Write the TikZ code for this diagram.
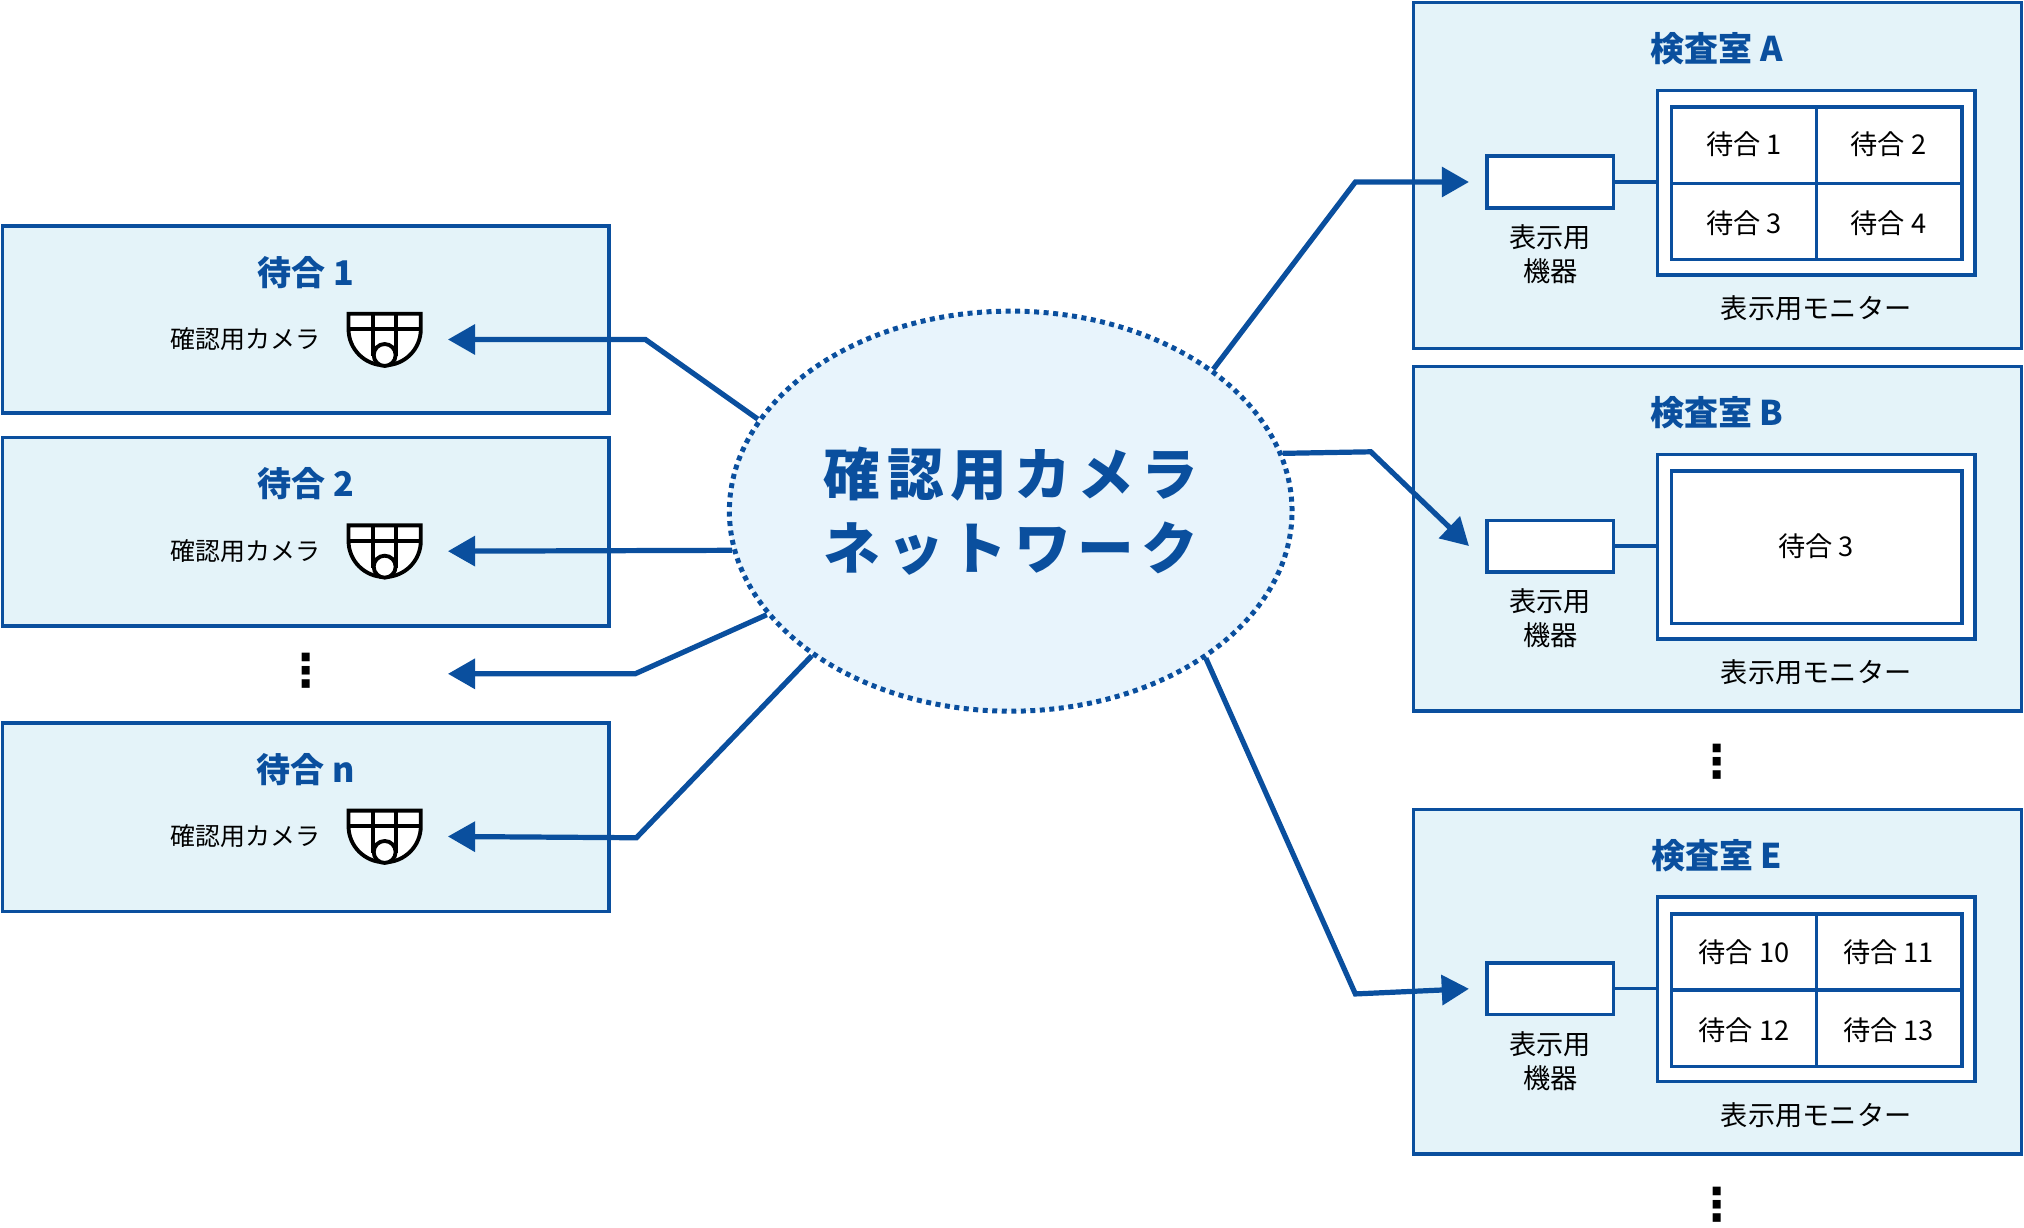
\documentclass[tikz,border=0pt]{standalone}
\usepackage{fontspec}
\setmainfont{Noto Sans CJK JP}
\newfontfamily\djv{DejaVu Sans}
\usetikzlibrary{shapes.geometric,arrows.meta,fit}
\definecolor{bl}{HTML}{0A4F9E}
\definecolor{pane}{HTML}{E4F3F9}
\definecolor{cloud}{HTML}{E8F4FC}
\begin{document}
\begin{tikzpicture}[x=0.02cm,y=-0.02cm,
  box/.style={draw=bl,line width=1.6pt,fill=pane,inner sep=0},
  wbox/.style={draw=bl,line width=1.5pt,fill=white,inner sep=0},
  ttl/.style={text=bl,font=\fontsize{15}{18}\selectfont\bfseries},
  sm/.style={font=\fontsize{11}{14}\selectfont,align=center},
  cell/.style={font=\fontsize{12}{14}\selectfont},
  arr/.style={draw=bl,line width=2.3pt,-{Triangle[length=12pt,width=13pt]}},
  ln/.style={draw=bl,line width=1.5pt},
  dots/.style={font=\djv\fontsize{20}{20}\selectfont\bfseries},
  cam/.pic={\draw[line width=1.7pt,fill=white] (-28,0)--(28,0)--(28,12) arc (0:180:28) -- cycle;
    \draw[line width=1.7pt] (-28,12)--(28,12) (-9,0)--(-9,33) (9,0)--(9,33);
    \draw[line width=1.7pt,fill=white] (0,32) circle (8.5);}]
\useasboundingbox (0,0) rectangle (1568,951);
% left panels
\foreach \n/\ya/\yb/\t in {w1/175/320/待合 1,w2/339/485/待合 2,wn/560/706/待合 n}{
  \node[box,fit={(2,\ya)(472,\yb)}] (\n) {};
  \node[ttl] (\n t) at (237,{\ya+36}) {\t};
  \node[sm] (\n c) at (190,{\ya+88}) {確認用カメラ};
  \pic at (298,{\ya+68}) {cam};
  \coordinate (\n a) at (347,{\ya+88});
}
\node[dots] (ld) at (237,520) {⋮};
\coordinate (da) at (347,522);
% network
\node[ellipse,draw=bl,dotted,line width=2.2pt,fill=cloud,minimum width=8.72cm,minimum height=6.2cm,
  text=bl,align=center,font=\fontsize{25}{33}\selectfont\bfseries\addfontfeature{LetterSpace=12}] (net) at (783,396)
  {確認用カメラ\\ネットワーク};
\draw[arr] (net.160) -- (500,263) -- (w1a);
\draw[arr] (net.188) -- (w2a);
\draw[arr] (net.203.5) -- (492,522) -- (da);
\draw[arr] (net.216) -- (493,649) -- (wna);
% right panels
\foreach \n/\ya/\yb/\t in {rA/2/270/検査室 A,rB/284/551/検査室 B,rE/627/894/検査室 E}{
  \node[box,fit={(1095,\ya)(1566,\yb)}] (\n) {};
  \node[ttl] (\n t) at (1330,{\ya+36}) {\t};
  \node[wbox,fit={(1152,\ya+119)(1250,\ya+159)}] (\n d) {};
  \node[sm,font=\fontsize{12}{15}\selectfont] (\n l) at (1201,{\ya+195}) {表示用\\機器};
  \node[wbox,fit={(1284,\ya+68)(1530,\ya+211)}] (\n m) {};
  \node[wbox,fit={(1295,\ya+81)(1520,\ya+199)}] (\n i) {};
  \node[sm,font=\fontsize{12}{15}\selectfont] (\n ml) at (1407,{\ya+237}) {表示用モニター};
  \draw[ln] (\n d.east) -- (\n d.east -| \n m.west);
  \coordinate (\n a) at (1138,{\ya+139});
}
\draw[ln] (1407,83)--(1407,201) (1295,142)--(1520,142);
\draw[ln] (1407,708)--(1407,826) (1295,767)--(1520,767);
\node[cell] (a1) at (1351,112) {待合 1};
\node[cell] (a2) at (1463,112) {待合 2};
\node[cell] (a3) at (1351,173) {待合 3};
\node[cell] (a4) at (1463,173) {待合 4};
\node[cell] (b3) at (1407,423) {待合 3};
\node[cell] (e1) at (1351,738) {待合 10};
\node[cell] (e2) at (1463,738) {待合 11};
\node[cell] (e3) at (1351,798) {待合 12};
\node[cell] (e4) at (1463,798) {待合 13};
\node[dots] (rd1) at (1330,590) {⋮};
\node[dots] (rd2) at (1330,933) {⋮};
\draw[arr] (net.35) -- (1050,141) -- (rAa);
\draw[arr] (net.12.5) -- (1062,350) -- (rBa);
\draw[arr] (net.323) -- (1050,770) -- (rEa);
\end{tikzpicture}
\end{document}
